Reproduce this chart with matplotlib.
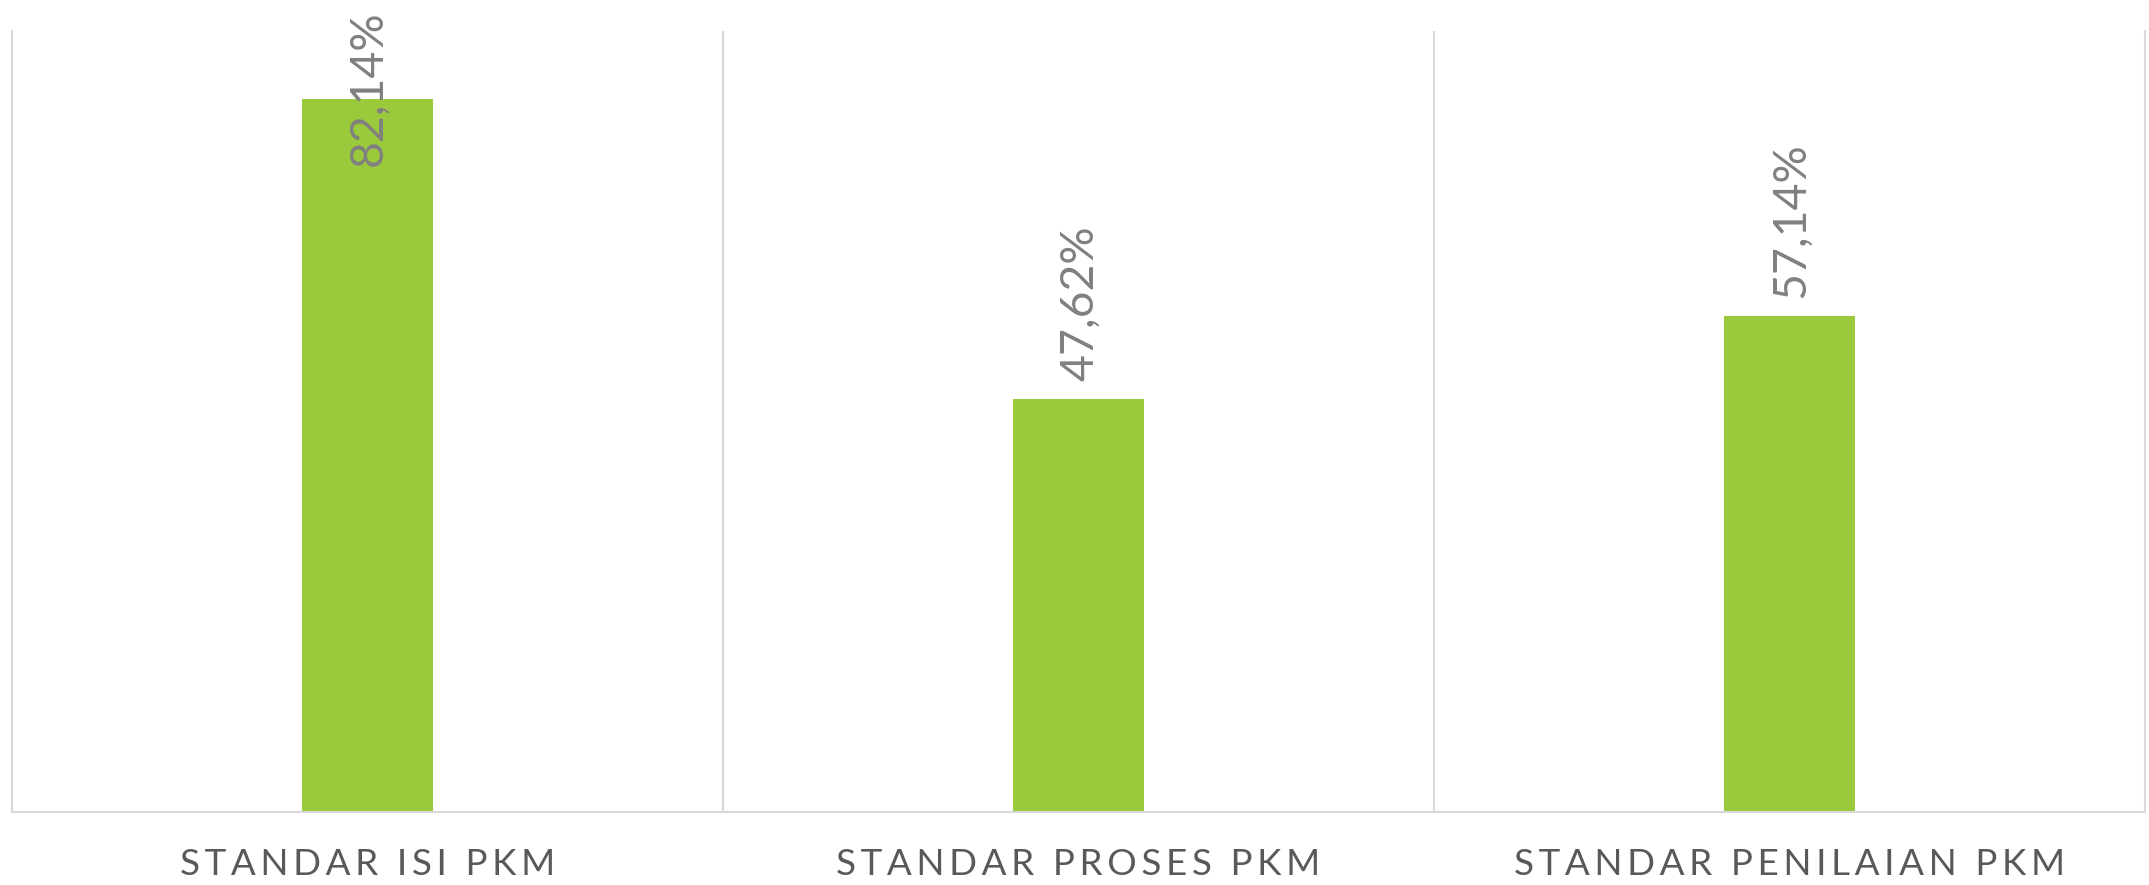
import matplotlib
matplotlib.use("Agg")
import matplotlib.pyplot as plt
import numpy as np

categories = ["STANDAR ISI PKM", "STANDAR PROSES PKM", "STANDAR PENILAIAN PKM"]
values = [82.14, 47.62, 57.14]
value_labels = ["82,14%", "47,62%", "57,14%"]

plt.rcParams['font.family'] = ['Lato', 'DejaVu Sans']


def spaced(s):
    # emulate the wide letter spacing of the original labels
    return "\u2009".join(s)


W, H, DPI = 2149, 885, 100
fig = plt.figure(figsize=(W / DPI, H / DPI), dpi=DPI)
ax = fig.add_axes([12 / W, (885 - 812) / H, (2145 - 12) / W, (812 - 31) / H])

x = np.arange(len(categories))
bars = ax.bar(x, values, width=0.184, color="#9ACA3C", zorder=2)

ax.set_xlim(-0.5, len(categories) - 0.5)
ax.set_ylim(0, 90)
ax.set_yticks([])
ax.set_xticks(x)
ax.set_xticklabels([spaced(c) for c in categories], fontsize=26.5, color="#595959",
                   family=['Lato', 'DejaVu Sans'])
ax.tick_params(axis='x', length=0, pad=26)
ax.set_xticks(np.arange(0.5, len(categories) - 0.5, 1), minor=True)
ax.tick_params(axis='x', which='minor', length=0)
ax.grid(axis='x', which='minor', color="#D9D9D9", linewidth=1.5, zorder=0)

for s in ["left", "right", "bottom"]:
    ax.spines[s].set_color("#D9D9D9")
    ax.spines[s].set_linewidth(1.5)
ax.spines["top"].set_visible(False)

texts = []
for b, lab in zip(bars, value_labels):
    t = ax.annotate(lab, (b.get_x() + b.get_width() / 2, b.get_height()),
                    xytext=(1, 13), textcoords="offset points",
                    rotation=90, ha="center", va="bottom",
                    fontsize=33.5, color="#808080", zorder=3)
    texts.append(t)

fig.canvas.draw()
renderer = fig.canvas.get_renderer()
limit = H - 10
for t in texts:
    bb = t.get_window_extent(renderer)
    if bb.y1 > limit:
        shift = (bb.y1 - limit) * 72 / DPI
        ox, oy = t.xyann
        t.xyann = (ox, oy - shift)

fig.savefig("out.png", dpi=DPI)
